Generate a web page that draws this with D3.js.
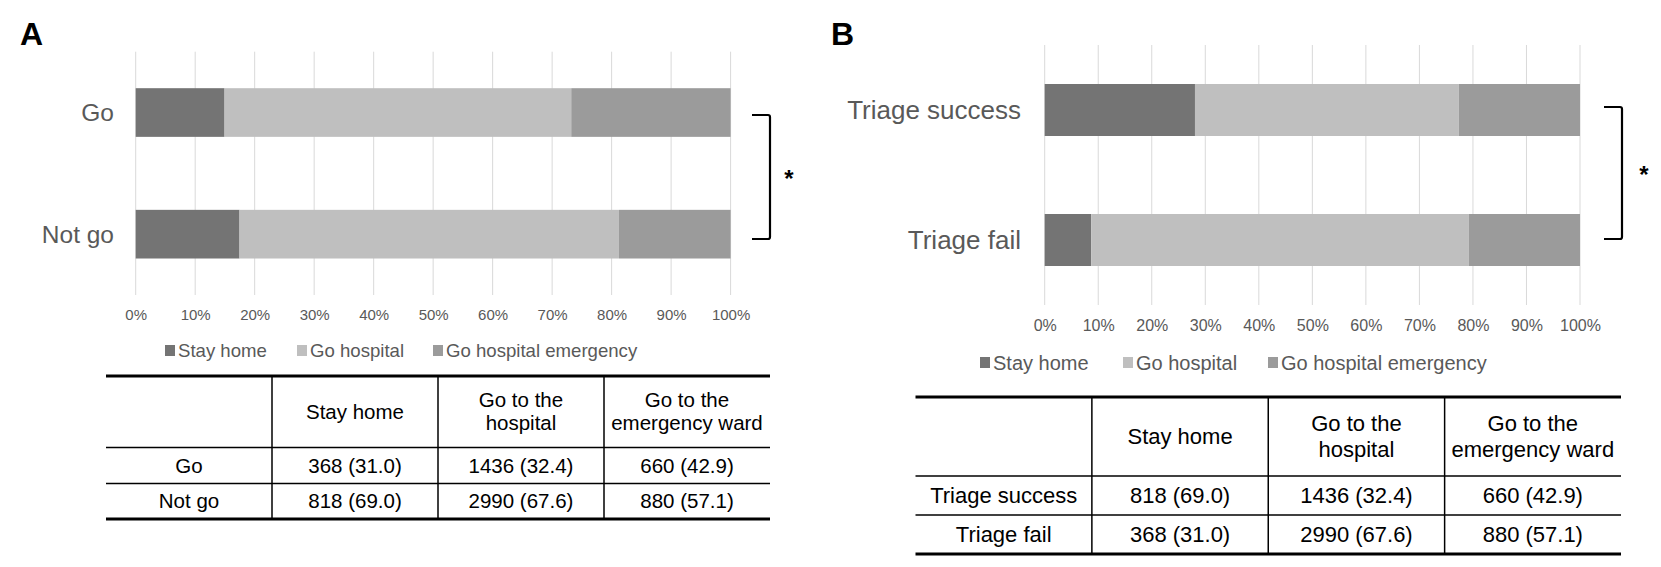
<!DOCTYPE html>
<html>
<head>
<meta charset="utf-8">
<script src="https://cdn.jsdelivr.net/npm/d3@7"></script>
<style>
  html, body { margin: 0; padding: 0; background: #fff; }
  svg { display: block; font-family: "Liberation Sans", Arial, sans-serif; }
</style>
</head>
<body>
<svg id="chart" width="1661" height="567"></svg>
<script>
// ---------- DATA ----------
const seriesNames = ["Stay home", "Go hospital", "Go hospital emergency"];
const seriesColors = ["#747474", "#bfbfbf", "#9b9b9b"];
const tickValues = [0, 0.1, 0.2, 0.3, 0.4, 0.5, 0.6, 0.7, 0.8, 0.9, 1.0];

// Panel A
const categoriesA = ["Go", "Not go"];
const stayHomeA = [368, 818];
const goHospitalA = [1436, 2990];
const emergencyA = [660, 880];
const stayHomePctA = ["31.0", "69.0"];
const goHospitalPctA = ["32.4", "67.6"];
const emergencyPctA = ["42.9", "57.1"];

// Panel B
const categoriesB = ["Triage success", "Triage fail"];
const stayHomeB = [818, 368];
const goHospitalB = [1436, 2990];
const emergencyB = [660, 880];
const stayHomePctB = ["69.0", "31.0"];
const goHospitalPctB = ["32.4", "67.6"];
const emergencyPctB = ["42.9", "57.1"];

// Table header
const tableHeaders = [[""], ["Stay home"], ["Go to the", "hospital"], ["Go to the", "emergency ward"]];
const panelLetters = ["A", "B"];

// ---------- DRAW ----------
const svg = d3.select("#chart");
const textGray = "#595959";

function drawPanel(cfg) {
  const g = svg.append("g");
  const rows = cfg.cats.map((c, i) => ({
    cat: c, "Stay home": cfg.s1[i], "Go hospital": cfg.s2[i], "Go hospital emergency": cfg.s3[i]
  }));
  const stacked = d3.stack().keys(seriesNames).offset(d3.stackOffsetExpand)(rows);

  const x = d3.scaleLinear().domain([0, 1]).range([cfg.x0, cfg.x1]);
  const y = d3.scaleBand().domain(cfg.cats).range([cfg.yTop, cfg.yBot])
    .paddingInner(0.6).paddingOuter(0.3);

  // panel letter
  g.append("text").attr("x", cfg.letterX).attr("y", 45)
    .attr("font-size", 32).attr("font-weight", "bold").attr("fill", "#000")
    .text(cfg.letter);

  // gridlines
  g.append("g").selectAll("line").data(tickValues).join("line")
    .attr("x1", d => x(d)).attr("x2", d => x(d))
    .attr("y1", cfg.yTop).attr("y2", cfg.yBot)
    .attr("stroke", "#d9d9d9").attr("stroke-width", 1);

  // x axis tick labels
  const xAxis = d3.axisBottom(x).tickValues(tickValues).tickFormat(d3.format(".0%")).tickSize(0);
  const ax = g.append("g").attr("transform", `translate(0,${cfg.tickY})`).call(xAxis);
  ax.select(".domain").remove();
  ax.selectAll("text").attr("font-size", cfg.tickFont).attr("fill", textGray)
    .attr("font-family", "Liberation Sans, Arial, sans-serif").attr("y", 0).attr("dy", "0.35em");

  // bars
  g.append("g").selectAll("g").data(stacked).join("g")
    .attr("fill", (d, i) => seriesColors[i])
    .selectAll("rect").data(d => d).join("rect")
    .attr("x", d => x(d[0])).attr("width", d => x(d[1]) - x(d[0]))
    .attr("y", d => y(d.data.cat)).attr("height", y.bandwidth());

  // category labels
  const yAxis = d3.axisLeft(y).tickSize(0);
  const ay = g.append("g").attr("transform", `translate(${cfg.labelRight},0)`).call(yAxis);
  ay.select(".domain").remove();
  ay.selectAll("text").attr("font-size", cfg.labelFont).attr("fill", textGray)
    .attr("font-family", "Liberation Sans, Arial, sans-serif").attr("x", 0).attr("dy", "0.35em");

  // legend
  const lg = g.append("g").attr("transform", `translate(0,${cfg.legendY})`);
  seriesNames.forEach((name, i) => {
    const lx = cfg.legendXs[i];
    lg.append("rect").attr("x", lx).attr("y", -5.5).attr("width", 10).attr("height", 11)
      .attr("fill", seriesColors[i]);
    lg.append("text").attr("x", lx + 13).attr("y", 0).attr("dy", "0.35em")
      .attr("font-size", cfg.legendFont).attr("fill", textGray).text(name);
  });

  // significance bracket
  const b = cfg.bracket;
  g.append("path")
    .attr("d", `M${b.x0},${b.top} L${b.x1 - 2},${b.top} Q${b.x1},${b.top} ${b.x1},${b.top + 2} L${b.x1},${b.bot - 2} Q${b.x1},${b.bot} ${b.x1 - 2},${b.bot} L${b.x0},${b.bot}`)
    .attr("fill", "none").attr("stroke", "#000").attr("stroke-width", 2.2);
  g.append("text").attr("x", b.starX).attr("y", (b.top + b.bot) / 2 + 10)
    .attr("text-anchor", "middle").attr("font-size", 24).attr("font-weight", "bold")
    .attr("fill", "#000").text("*");

  // table
  const t = cfg.table;
  const tg = g.append("g");
  const colX = d3.scaleBand().domain(d3.range(4)).range([t.left, t.right]);
  const rowData = cfg.cats.map((c, i) => [
    c,
    `${cfg.s1[i]} (${cfg.p1[i]})`,
    `${cfg.s2[i]} (${cfg.p2[i]})`,
    `${cfg.s3[i]} (${cfg.p3[i]})`
  ]);
  const rowBounds = [[t.top, t.head], [t.head, t.row1], [t.row1, t.bottom]];

  tg.append("line").attr("x1", t.left).attr("x2", t.right).attr("y1", t.top).attr("y2", t.top)
    .attr("stroke", "#000").attr("stroke-width", 3);
  tg.append("line").attr("x1", t.left).attr("x2", t.right).attr("y1", t.bottom).attr("y2", t.bottom)
    .attr("stroke", "#000").attr("stroke-width", 3);
  [t.head, t.row1].forEach(yy => tg.append("line").attr("x1", t.left).attr("x2", t.right)
    .attr("y1", yy).attr("y2", yy).attr("stroke", "#000").attr("stroke-width", 1.5));
  [1, 2, 3].forEach(ci => tg.append("line").attr("x1", colX(ci)).attr("x2", colX(ci))
    .attr("y1", t.top).attr("y2", t.bottom).attr("stroke", "#000").attr("stroke-width", 1.5));

  tableHeaders.forEach((lines, ci) => {
    const cy = (t.top + t.head) / 2;
    const n = lines.length;
    lines.forEach((ln, li) => {
      tg.append("text").attr("x", colX(ci) + colX.bandwidth() / 2)
        .attr("y", cy + (li - (n - 1) / 2) * t.lineH).attr("dy", "0.35em")
        .attr("text-anchor", "middle").attr("font-size", t.font).attr("fill", "#000").text(ln);
    });
  });
  rowData.forEach((r, ri) => {
    const [y0, y1] = rowBounds[ri + 1];
    r.forEach((cell, ci) => {
      tg.append("text").attr("x", colX(ci) + colX.bandwidth() / 2)
        .attr("y", (y0 + y1) / 2).attr("dy", "0.35em")
        .attr("text-anchor", "middle").attr("font-size", t.font).attr("fill", "#000").text(cell);
    });
  });
}

drawPanel({
  letter: panelLetters[0], letterX: 20,
  cats: categoriesA, s1: stayHomeA, s2: goHospitalA, s3: emergencyA,
  p1: stayHomePctA, p2: goHospitalPctA, p3: emergencyPctA,
  x0: 135.7, x1: 730.6, yTop: 51.7, yBot: 295,
  labelRight: 114, labelFont: 24.5,
  tickY: 315, tickFont: 15,
  legendY: 350.5, legendXs: [165, 297, 433], legendFont: 18.6,
  bracket: { x0: 752, x1: 770, top: 115, bot: 239, starX: 789 },
  table: { left: 106, right: 770, top: 376, head: 447.5, row1: 483.5, bottom: 519, font: 20.5, lineH: 23 }
});

drawPanel({
  letter: panelLetters[1], letterX: 831,
  cats: categoriesB, s1: stayHomeB, s2: goHospitalB, s3: emergencyB,
  p1: stayHomePctB, p2: goHospitalPctB, p3: emergencyPctB,
  x0: 1044.7, x1: 1580, yTop: 45, yBot: 305,
  labelRight: 1021, labelFont: 26,
  tickY: 325, tickFont: 16,
  legendY: 362.5, legendXs: [980, 1123, 1268], legendFont: 20,
  bracket: { x0: 1604, x1: 1622, top: 107, bot: 239, starX: 1644 },
  table: { left: 915.5, right: 1621, top: 397, head: 476, row1: 515, bottom: 554, font: 22, lineH: 25.5 }
});
</script>
</body>
</html>
